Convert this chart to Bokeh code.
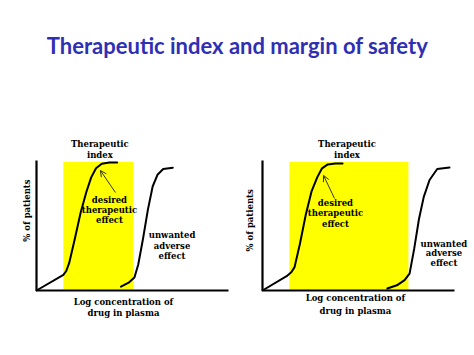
import math
from bokeh.plotting import figure
from bokeh.models import Range1d, Arrow, OpenHead
from bokeh.core.properties import value
from bokeh.embed import file_html
from bokeh.resources import INLINE

# ---------------- data (log concentration units, % of patients) ----------------
title_text = "Therapeutic index and margin of safety"
x_label = ["Log concentration of", "drug in plasma"]
y_label = "% of patients"
index_label = ["Therapeutic", "index"]
desired_label = ["desired", "therapeutic", "effect"]
adverse_label = ["unwanted", "adverse", "effect"]

# left panel: narrow margin
A_ther_x = [0.0, 1.4, 1.55, 1.7, 2.0, 2.3, 2.6, 2.85, 3.1, 3.4, 3.8, 4.2]
A_ther_y = [0.0, 12.0, 15.0, 21.0, 40.0, 60.0, 76.0, 87.0, 94.0, 97.5, 98.5, 98.5]
A_adv_x = [4.4, 4.8, 5.1, 5.3, 5.55, 5.8, 6.05, 6.3, 6.6, 7.1]
A_adv_y = [3.0, 6.0, 10.0, 20.0, 40.0, 62.0, 80.0, 89.0, 93.5, 94.5]
A_index = [1.4, 5.05]

# right panel: wide margin
B_ther_x = [0.0, 1.3, 1.5, 1.67, 1.95, 2.25, 2.55, 2.85, 3.1, 3.4, 3.8, 4.17]
B_ther_y = [0.0, 11.5, 14.0, 18.0, 36.0, 58.0, 76.0, 87.0, 94.0, 97.0, 97.7, 97.7]
B_adv_x = [6.5, 7.0, 7.4, 7.66, 7.9, 8.15, 8.4, 8.7, 9.1, 9.74]
B_adv_y = [1.5, 4.0, 8.0, 13.0, 32.0, 55.0, 72.0, 85.0, 93.5, 94.6]
B_index = [1.4, 7.6]

X_MAX = 10.0
Y_MAX = 100.0
INDEX_TOP = 99.0

# ---------------- layout ----------------
W, H = 474, 355
p = figure(width=W, height=H, output_backend="svg", toolbar_location=None,
           x_range=Range1d(0, W), y_range=Range1d(0, H), min_border=0)
p.axis.visible = False
p.grid.visible = False
p.outline_line_color = None
p.background_fill_color = "white"
p.border_fill_color = "white"

# panel pixel boxes: origin (from left, from top), scales px per unit
panels = {
    "A": dict(ox=36, oy=290, sx=19.2, sy=1.3),
    "B": dict(ox=262, oy=290, sx=19.2, sy=1.3),
}
for k, b in panels.items():
    oyb = H - b["oy"]
    p.extra_x_ranges[k] = Range1d(-b["ox"] / b["sx"], (W - b["ox"]) / b["sx"])
    p.extra_y_ranges[k] = Range1d(-oyb / b["sy"], (H - oyb) / b["sy"])

FONT = value("DejaVu Serif")
FS = "8.5px"


def txt(rn, x, y, s, angle=0.0):
    p.text(x=[x], y=[y], text=[s], x_range_name=rn, y_range_name=rn,
           text_font=FONT, text_font_size=FS, text_font_style="bold",
           text_color="black", text_align="center", text_baseline="middle",
           angle=angle)


def panel(rn, ther_x, ther_y, adv_x, adv_y, index, pos):
    p.quad(left=[index[0]], right=[index[1]], bottom=[0], top=[INDEX_TOP],
           x_range_name=rn, y_range_name=rn, fill_color="#ffff00",
           line_color=None)
    p.segment(x0=[0, 0], y0=[0, 0], x1=[X_MAX, 0], y1=[0, Y_MAX],
              x_range_name=rn, y_range_name=rn, line_color="black",
              line_width=2.2)
    for xs, ys in ((ther_x, ther_y), (adv_x, adv_y)):
        p.line(xs, ys, x_range_name=rn, y_range_name=rn, line_color="black",
               line_width=2, line_join="round", line_cap="round")
    (ix, iy0, iy1) = pos["index"]
    txt(rn, ix, iy0, index_label[0])
    txt(rn, ix, iy1, index_label[1])
    dx, dys = pos["desired"]
    for s, yy in zip(desired_label, dys):
        txt(rn, dx, yy, s)
    ax, ays = pos["adverse"]
    for s, yy in zip(adverse_label, ays):
        txt(rn, ax, yy, s)
    yx, yy = pos["ylab"]
    txt(rn, yx, yy, y_label, angle=math.pi / 2)
    lx, lys = pos["xlab"]
    for s, yy in zip(x_label, lys):
        txt(rn, lx, yy, s)
    (a0x, a0y, a1x, a1y) = pos["arrow"]
    p.add_layout(Arrow(x_start=a0x, y_start=a0y, x_end=a1x, y_end=a1y,
                       x_range_name=rn, y_range_name=rn, line_width=1,
                       line_color="#333333",
                       end=OpenHead(size=6, line_width=1, line_color="#333333")))


panel("A", A_ther_x, A_ther_y, A_adv_x, A_adv_y, A_index, dict(
    index=(3.3, 113, 104.6),
    desired=(3.8, [70, 62, 54]),
    adverse=(7.06, [43, 34.6, 26.5]),
    ylab=(-0.47, 61.5),
    xlab=(4.53, [-9.2, -17.5]),
    arrow=(4.11, 75.4, 3.33, 92.3),
))
panel("B", B_ther_x, B_ther_y, B_adv_x, B_adv_y, B_index, dict(
    index=(4.4, 113, 104.6),
    desired=(3.8, [67, 59.5, 51.5]),
    adverse=(9.45, [36, 28.5, 20.8]),
    ylab=(-0.63, 54),
    xlab=(4.84, [-6, -16]),
    arrow=(3.75, 70.8, 3.18, 88.5),
))

# title
p.text(x=[W / 2], y=[H - 45], text=[title_text], text_font=value("Lato"),
       text_font_size="22px", text_font_style="bold", text_color="#2f2fb3",
       text_align="center", text_baseline="middle")

open("out.html", "w").write(file_html(p, INLINE))
